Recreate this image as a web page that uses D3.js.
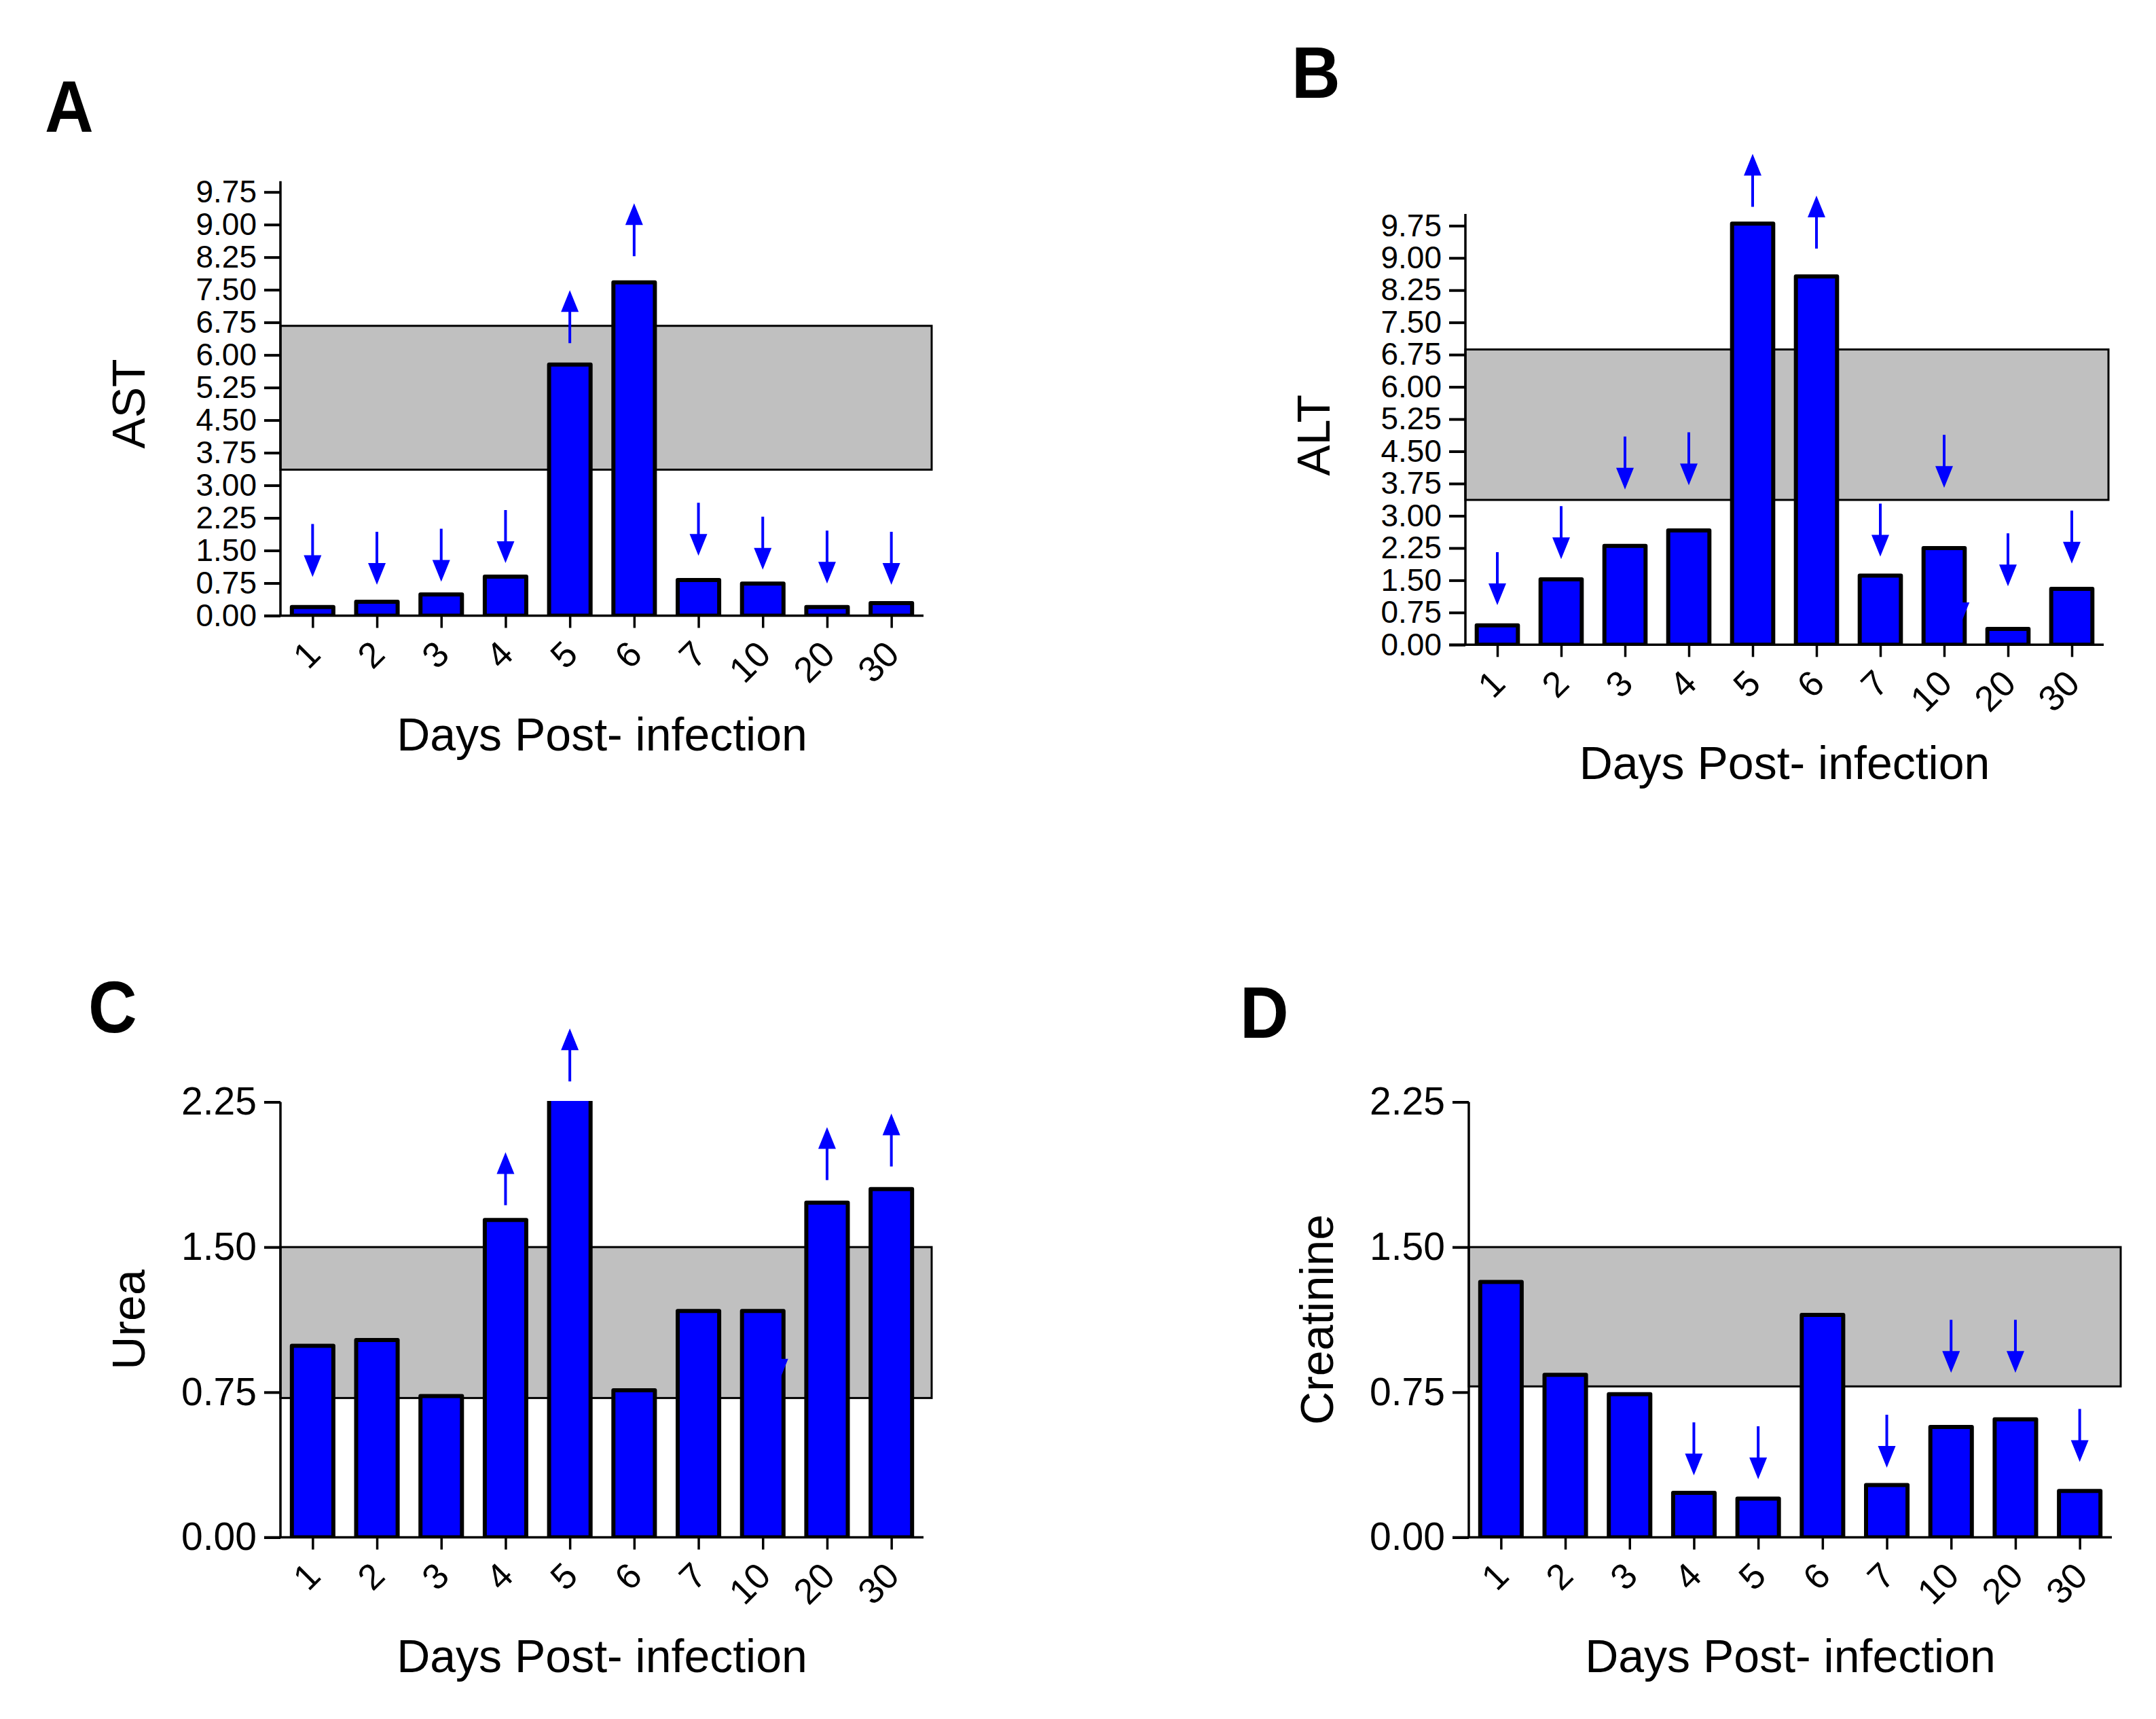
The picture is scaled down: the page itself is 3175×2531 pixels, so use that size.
<!DOCTYPE html>
<html>
<head>
<meta charset="utf-8">
<script src="https://cdn.jsdelivr.net/npm/d3@7"></script>
<style>
  body { margin: 0; background: #fff; }
  svg { display: block; font-family: "Liberation Sans", Arial, sans-serif; }
</style>
</head>
<body>
<svg id="fig" width="3175" height="2531"></svg>
<script>
var days = ["1", "2", "3", "4", "5", "6", "7", "10", "20", "30"];

var astValues   = [0.20, 0.32, 0.49, 0.90, 5.78, 7.67, 0.82, 0.74, 0.20, 0.29];
var altValues   = [0.45, 1.52, 2.30, 2.66, 9.80, 8.57, 1.61, 2.25, 0.37, 1.30];
var ureaValues  = [0.99, 1.02, 0.73, 1.64, 2.40, 0.76, 1.17, 1.17, 1.73, 1.80];
var creatValues = [1.32, 0.84, 0.74, 0.23, 0.20, 1.15, 0.27, 0.57, 0.61, 0.24];

// grey band = normal range
var astRange   = [3.36, 6.67];
var altRange   = [3.37, 6.87];
var ureaRange  = [0.72, 1.50];
var creatRange = [0.78, 1.50];

// arrows: day, value at the arrow tip, direction
var astArrows = [
  ["1", 0.89, "down"], ["2", 0.71, "down"], ["3", 0.78, "down"], ["4", 1.21, "down"],
  ["5", 7.49, "up"], ["6", 9.49, "up"], ["7", 1.38, "down"], ["10", 1.06, "down"],
  ["20", 0.74, "down"], ["30", 0.71, "down"]
];
var altArrows = [
  ["1", 0.92, "down"], ["2", 1.99, "down"], ["3", 3.61, "down"], ["4", 3.71, "down"],
  ["5", 11.42, "up"], ["6", 10.45, "up"], ["7", 2.05, "down"], ["10", 3.65, "down"],
  ["20", 1.36, "down"], ["30", 1.89, "down"]
];
var ureaArrows = [["4", 1.99, "up"], ["5", 2.63, "up"], ["20", 2.12, "up"], ["30", 2.19, "up"]];
var creatArrows = [
  ["4", 0.32, "down"], ["5", 0.30, "down"], ["7", 0.36, "down"],
  ["10", 0.85, "down"], ["20", 0.85, "down"], ["30", 0.39, "down"]
];
// stray arrowheads left over on the day-10 bars
var altStray  = [["10", 0.48, "down"]];
var ureaStray = [["10", 0.81, "down"]];

var liverTicks  = [0, 0.75, 1.5, 2.25, 3, 3.75, 4.5, 5.25, 6, 6.75, 7.5, 8.25, 9, 9.75];
var kidneyTicks = [0, 0.75, 1.5, 2.25];

var svg = d3.select("#fig");
var blue = "#0000ff";

var panels = [
  { letter: "A", title: "AST", values: astValues, band: astRange, arrows: astArrows, stray: [],
    ticks: liverTicks, tickFont: 46, max: 9.75, x0: 413, x1: 1360, y0: 906.5, yTop: 282.7, axisTop: 266.7,
    bandRight: 1372, lx: 66, ly: 194 },
  { letter: "B", title: "ALT", values: altValues, band: altRange, arrows: altArrows, stray: altStray,
    ticks: liverTicks, tickFont: 46, max: 9.75, x0: 2158, x1: 3098, y0: 949.3, yTop: 332.3, axisTop: 315,
    bandRight: 3105, lx: 1902, ly: 144 },
  { letter: "C", title: "Urea", values: ureaValues, band: ureaRange, arrows: ureaArrows, stray: ureaStray,
    ticks: kidneyTicks, tickFont: 57, max: 2.25, x0: 413, x1: 1360, y0: 2263.5, yTop: 1622.5, axisTop: 1622.5,
    bandRight: 1372, lx: 130, ly: 1520 },
  { letter: "D", title: "Creatinine", values: creatValues, band: creatRange, arrows: creatArrows, stray: [],
    ticks: kidneyTicks, tickFont: 57, max: 2.25, x0: 2163, x1: 3110, y0: 2263.5, yTop: 1622.5, axisTop: 1622.5,
    bandRight: 3123, lx: 1826, ly: 1528 }
];

function arrowPath(cx, tipY, dir) {
  var s = dir === "down" ? -1 : 1,   // direction from tip back to tail
      len = 78, head = 32, hw = 13, sw = 2;
  return "M" + (cx - sw) + "," + (tipY + s * (head - 1)) +
    "L" + (cx - sw) + "," + (tipY + s * len) +
    "L" + (cx + sw) + "," + (tipY + s * len) +
    "L" + (cx + sw) + "," + (tipY + s * (head - 1)) + "Z" +
    "M" + cx + "," + tipY +
    "L" + (cx - hw) + "," + (tipY + s * head) +
    "L" + (cx + hw) + "," + (tipY + s * head) + "Z";
}

panels.forEach(function(p, idx) {
  var g = svg.append("g");
  var x = d3.scalePoint().domain(days).range([p.x0, p.x1]).padding(0.5);
  var y = d3.scaleLinear().domain([0, p.max]).range([p.y0, p.yTop]);
  var bw = x.step() * 0.645;

  // normal range band
  g.append("rect")
    .attr("x", p.x0)
    .attr("y", y(p.band[1]))
    .attr("width", p.bandRight - p.x0)
    .attr("height", y(p.band[0]) - y(p.band[1]))
    .attr("fill", "#c0c0c0")
    .attr("stroke", "#000")
    .attr("stroke-width", 3);

  var clipId = "clip" + idx;
  svg.append("clipPath").attr("id", clipId)
    .append("rect")
    .attr("x", p.x0).attr("y", p.axisTop - 1.5)
    .attr("width", p.x1 - p.x0 + 20).attr("height", p.y0 - p.axisTop + 1.5);

  g.append("g").attr("clip-path", "url(#" + clipId + ")")
    .selectAll("rect")
    .data(p.values)
    .enter().append("rect")
      .attr("x", function(d, i) { return x(days[i]) - bw / 2; })
      .attr("y", function(d) { return y(d); })
      .attr("width", bw)
      .attr("height", function(d) { return p.y0 - y(d); })
      .attr("fill", blue)
      .attr("stroke", "#000")
      .attr("stroke-width", 6)
      .attr("stroke-linejoin", "round");

  g.selectAll("path.arrow")
    .data(p.arrows)
    .enter().append("path")
      .attr("class", "arrow")
      .attr("d", function(a) { return arrowPath(x(a[0]), y(a[1]), a[2]); })
      .attr("fill", blue);

  g.selectAll("path.stray")
    .data(p.stray)
    .enter().append("path")
      .attr("class", "stray")
      .attr("d", function(a) { return arrowPath(x(a[0]) + bw * 0.4, y(a[1]), a[2]); })
      .attr("fill", blue);

  // y axis
  var yAxis = g.append("g")
    .attr("transform", "translate(" + p.x0 + ",0)")
    .call(d3.axisLeft(y).tickValues(p.ticks).tickFormat(d3.format(".2f"))
      .tickSize(24).tickSizeOuter(0).tickPadding(11));
  yAxis.select(".domain").remove();
  yAxis.selectAll("line").attr("stroke-width", 4);
  yAxis.selectAll("text")
    .attr("font-size", p.tickFont)
    .attr("font-family", "Liberation Sans, Arial, sans-serif")
    .attr("fill", "#000");

  // x axis
  var xAxis = g.append("g")
    .attr("transform", "translate(0," + p.y0 + ")")
    .call(d3.axisBottom(x).tickSize(18).tickSizeOuter(0));
  xAxis.select(".domain").remove();
  xAxis.selectAll("line").attr("stroke-width", 3.5);
  xAxis.selectAll("text")
    .attr("x", 0).attr("y", 0).attr("dy", 0)
    .attr("transform", "translate(14,60) rotate(-45)")
    .style("text-anchor", "end")
    .attr("font-size", 53)
    .attr("font-family", "Liberation Sans, Arial, sans-serif")
    .attr("fill", "#000");

  g.append("line")
    .attr("x1", p.x0).attr("x2", p.x0)
    .attr("y1", p.axisTop).attr("y2", p.y0)
    .attr("stroke", "#000").attr("stroke-width", 3.5);
  g.append("line")
    .attr("x1", p.x0 - 24).attr("x2", p.x1)
    .attr("y1", p.y0).attr("y2", p.y0)
    .attr("stroke", "#000").attr("stroke-width", 3.5);

  // titles
  g.append("text")
    .attr("transform", "translate(" + (p.x0 - 200) + "," + ((p.y0 + p.yTop) / 2) + ") rotate(-90)")
    .attr("text-anchor", "middle")
    .attr("font-size", 68)
    .text(p.title);

  g.append("text")
    .attr("x", (p.x0 + p.x1) / 2)
    .attr("y", p.y0 + 198)
    .attr("text-anchor", "middle")
    .attr("font-size", 68)
    .text("Days Post- infection");

  g.append("text")
    .attr("transform", "translate(" + p.lx + "," + p.ly + ") scale(0.92,1)")
    .attr("font-size", 108)
    .attr("font-weight", "bold")
    .text(p.letter);
});
</script>
</body>
</html>
